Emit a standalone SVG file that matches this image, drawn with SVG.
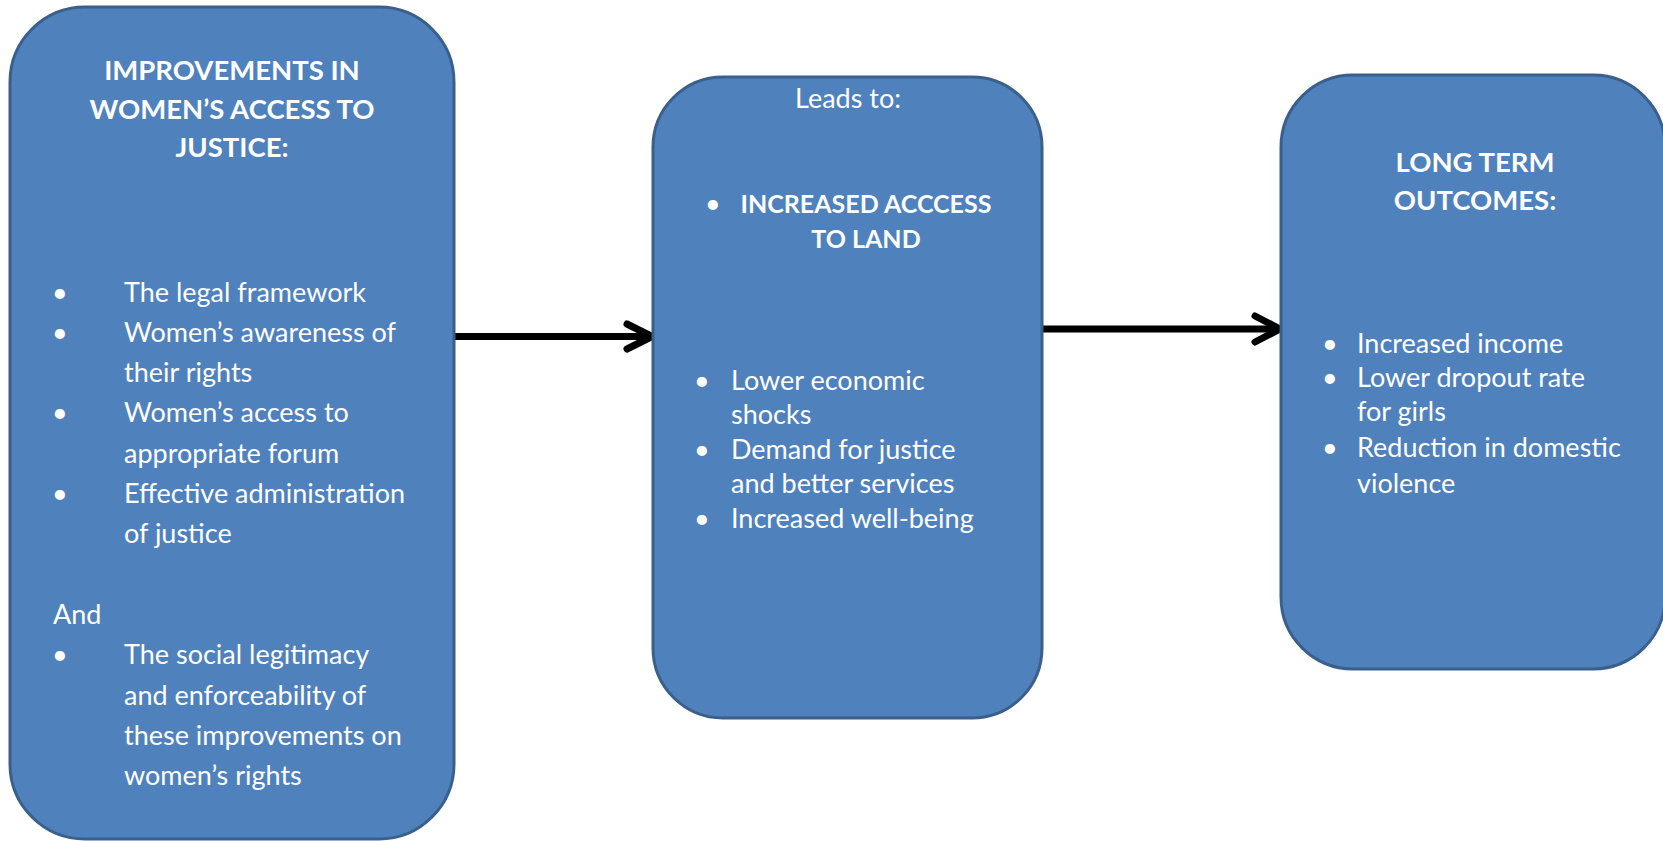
<svg xmlns="http://www.w3.org/2000/svg" width="1663" height="841" viewBox="0 0 1663 841">
  <style>
    .box { fill: #4F81BD; stroke: #3A5F8B; stroke-width: 3; }
    .t { fill: #FFFFFF; font-family: Lato, "Open Sans", "Liberation Sans", sans-serif; font-size: 27px; }
    .h { font-weight: bold; font-size: 27.5px; text-anchor: middle; }
    .hm { font-size: 25px; }
    .c { text-anchor: middle; }
    .arrow { fill: none; stroke: #000000; stroke-width: 7; stroke-linecap: round; stroke-linejoin: round; }
  </style>

  <!-- Connectors -->
  <g id="connectors">
    <line class="arrow" x1="454" y1="336.5" x2="650" y2="336.5" stroke-linecap="butt"/>
    <polyline class="arrow" points="627,324 652,336.5 627,349"/>
    <line class="arrow" x1="1043" y1="329" x2="1278" y2="329" stroke-linecap="butt"/>
    <polyline class="arrow" points="1255,316 1280,329 1255,342"/>
  </g>

  <!-- Inputs: improvements in access to justice -->
  <g id="node-improvements">
    <rect class="box" x="10" y="7" width="444" height="832" rx="75" ry="75"/>
    <text class="t h" x="232" y="80">IMPROVEMENTS IN</text>
    <text class="t h" x="232" y="119">WOMEN’S ACCESS TO</text>
    <text class="t h" x="232" y="157">JUSTICE:</text>
    <g class="t">
      <text x="52" y="302">•</text><text x="124" y="302">The legal framework</text>
      <text x="52" y="342">•</text><text x="124" y="342">Women’s awareness of</text>
      <text x="124" y="382">their rights</text>
      <text x="52" y="422">•</text><text x="124" y="422">Women’s access to</text>
      <text x="124" y="463">appropriate forum</text>
      <text x="52" y="503">•</text><text x="124" y="503">Effective administration</text>
      <text x="124" y="543">of justice</text>
      <text x="53" y="624">And</text>
      <text x="52" y="664">•</text><text x="124" y="664">The social legitimacy</text>
      <text x="124" y="705">and enforceability of</text>
      <text x="124" y="745">these improvements on</text>
      <text x="124" y="785">women’s rights</text>
    </g>
  </g>

  <!-- Intermediate effects -->
  <g id="node-leads-to">
    <rect class="box" x="653" y="77" width="389" height="641" rx="70" ry="70"/>
    <text class="t c" x="848" y="108">Leads to:</text>
    <text class="t" x="705" y="213">•</text>
    <text class="t h hm" x="866" y="213">INCREASED ACCCESS</text>
    <text class="t h hm" x="866" y="248">TO LAND</text>
    <g class="t">
      <text x="694" y="390">•</text><text x="731" y="390">Lower economic</text>
      <text x="731" y="424">shocks</text>
      <text x="694" y="459">•</text><text x="731" y="459">Demand for justice</text>
      <text x="731" y="493">and better services</text>
      <text x="694" y="528">•</text><text x="731" y="528">Increased well-being</text>
    </g>
  </g>

  <!-- Long term outcomes -->
  <g id="node-outcomes">
    <rect class="box" x="1281" y="75" width="384" height="594" rx="72" ry="72"/>
    <text class="t h" x="1475" y="172">LONG TERM</text>
    <text class="t h" x="1475" y="210">OUTCOMES:</text>
    <g class="t">
      <text x="1322" y="353">•</text><text x="1357" y="353">Increased income</text>
      <text x="1322" y="387">•</text><text x="1357" y="387">Lower dropout rate</text>
      <text x="1357" y="421">for girls</text>
      <text x="1322" y="457">•</text><text x="1357" y="457">Reduction in domestic</text>
      <text x="1357" y="493">violence</text>
    </g>
  </g>
</svg>
